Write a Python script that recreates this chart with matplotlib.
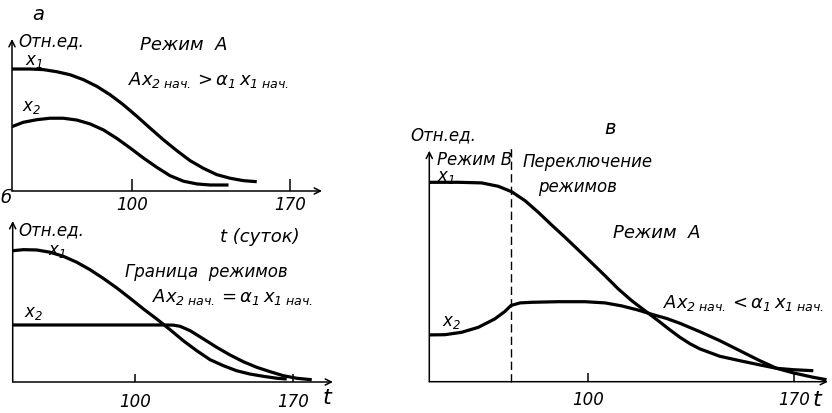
import matplotlib
matplotlib.use('Agg')
import matplotlib.pyplot as plt

plt.rcParams['font.family'] = ['DejaVu Sans']
plt.rcParams['mathtext.fontset'] = 'custom'
plt.rcParams['mathtext.rm'] = 'DejaVu Sans:italic'
plt.rcParams['mathtext.it'] = 'DejaVu Sans:italic'
plt.rcParams['mathtext.sf'] = 'DejaVu Sans:italic'

# ---------------- data (t in days, y in relative units) ----------------
# panel а  (режим A)
a_t1 = [47, 55.0, 60.9, 66.8, 72.7, 78.6, 84.5, 90.4, 96.3, 102.3, 108.1, 114.0,
        120.0, 125.9, 131.8, 137.7, 143.6, 149.5, 155.4]
a_x1 = [0.813, 0.813, 0.809, 0.795, 0.775, 0.742, 0.698, 0.642, 0.575, 0.498, 0.42,
        0.342, 0.269, 0.202, 0.151, 0.109, 0.085, 0.069, 0.062]
a_t2 = [47, 52.0, 57.9, 63.8, 69.7, 75.7, 81.6, 87.5, 93.4, 99.3, 105.2, 111.1,
        117.0, 123.0, 128.9, 134.8, 142.9]
a_x2 = [0.429, 0.458, 0.475, 0.485, 0.485, 0.473, 0.447, 0.407, 0.351, 0.287, 0.22,
        0.158, 0.102, 0.065, 0.047, 0.04, 0.04]

# panel б  (граница режимов)
b_t1 = [45.8, 50.5, 56.4, 62.3, 68.2, 74.2, 80.0, 85.9, 91.9, 97.8, 103.7, 109.6,
        115.5, 121.4, 127.3, 133.2, 139.1, 145.0, 150.9, 156.8, 162.8, 167.2]
b_x1 = [0.875, 0.882, 0.88, 0.865, 0.838, 0.798, 0.749, 0.691, 0.627, 0.558, 0.487,
        0.42, 0.349, 0.275, 0.209, 0.149, 0.109, 0.075, 0.053, 0.038, 0.025, 0.02]
b_t2 = [45.8, 60, 80, 100, 113.0, 117.0, 120.0, 124.4, 130.3, 136.2, 142.1, 148.0,
        153.9, 159.8, 165.7, 171.6, 178.3]
b_x2 = [0.38, 0.38, 0.38, 0.38, 0.38, 0.379, 0.371, 0.342, 0.287, 0.231, 0.18, 0.135,
        0.098, 0.069, 0.042, 0.025, 0.015]

# panel в  (режим B -> режим A)
c_t1 = [46.1, 55.8, 63.7, 69.4, 73.9, 78.5, 83.0, 87.5, 92.1, 96.6, 101.2, 105.7,
        110.2, 114.8, 119.3, 123.8, 127.8, 131.2, 134.6, 138.0, 144.8, 151.6, 158.4,
        164.1, 169.8, 176.6]
c_x1 = [0.997, 0.997, 0.994, 0.977, 0.95, 0.905, 0.847, 0.784, 0.722, 0.659, 0.594,
        0.53, 0.464, 0.405, 0.355, 0.305, 0.259, 0.222, 0.19, 0.164, 0.127, 0.105,
        0.084, 0.067, 0.06, 0.055]
c_t2 = [46.1, 51.2, 56.9, 62.6, 68.2, 71.6, 73.7, 76.8, 80.7, 89.8, 98.9, 105.7,
        111.4, 117.0, 122.1, 126.7, 131.2, 138.0, 144.8, 151.6, 158.4, 164.1, 169.8,
        176.6, 181.1]
c_x2 = [0.234, 0.235, 0.247, 0.272, 0.314, 0.351, 0.381, 0.394, 0.397, 0.4, 0.4,
        0.394, 0.379, 0.358, 0.335, 0.316, 0.292, 0.25, 0.205, 0.155, 0.105, 0.067,
        0.044, 0.022, 0.01]
switch_t = 73.7

tick_values = [100, 170]
tick_labels = ['100', '170']

W, H = 832, 414
fig = plt.figure(figsize=(W / 100, H / 100), dpi=100)


def panel(ox, oy, ex, ty, tlo, thi, ymax, ticklen, pad):
    ax = fig.add_axes([ox / W, (H - oy) / H, (ex - ox) / W, (oy - ty) / H])
    ax.set_xlim(tlo, thi)
    ax.set_ylim(0, ymax)
    ax.patch.set_alpha(0)
    for s in ax.spines.values():
        s.set_visible(False)
    arrow = dict(arrowstyle='->', lw=1.1, color='k', shrinkA=0, shrinkB=0,
                 mutation_scale=11)
    ax.annotate('', xy=(1, 0), xytext=(0, 0), xycoords='axes fraction',
                arrowprops=arrow, annotation_clip=False)
    ax.annotate('', xy=(0, 1), xytext=(0, 0), xycoords='axes fraction',
                arrowprops=arrow, annotation_clip=False)
    ax.set_xticks(tick_values)
    ax.set_xticklabels(tick_labels, fontsize=12, style='italic')
    ax.set_yticks([])
    ax.tick_params(axis='x', direction='in', length=ticklen, width=1.1, pad=pad)
    return ax


lw = 2.3
ax_a = panel(12, 192, 322, 40, 47, 184.3, 1.013, 9, 3)
ax_a.plot(a_t1, a_x1, color='k', lw=lw, solid_capstyle='butt')
ax_a.plot(a_t2, a_x2, color='k', lw=lw, solid_capstyle='butt')

ax_b = panel(12.7, 383, 333, 222, 45.8, 187.7, 1.073, 5.5, 7)
ax_b.plot(b_t1, b_x1, color='k', lw=lw, solid_capstyle='butt')
ax_b.plot(b_t2, b_x2, color='k', lw=lw, solid_capstyle='butt')

ax_c = panel(429.3, 382.7, 828, 151.7, 45.9, 181.6, 1.155, 6.5, 6)
ax_c.plot(c_t1, c_x1, color='k', lw=lw, solid_capstyle='butt')
ax_c.plot(c_t2, c_x2, color='k', lw=lw, solid_capstyle='butt')
ax_c.axvline(switch_t, ymin=0, ymax=1.01, color='k', lw=1.0,
             linestyle=(0, (6, 3)), clip_on=False)


def T(x, y, s, size=12, ha='left'):
    fig.text(x / W, 1 - y / H, s, ha=ha, va='center', fontsize=size,
             style='italic')


# panel а texts
T(38, 15, 'а', 14, 'center')
T(18, 41, 'Отн.ед.', 12)
T(140, 45, 'Режим  А', 13)
T(128, 80, r'$Ax_{2\;нач.}>\alpha_1\,x_{1\;нач.}$', 13)
T(25, 61, r'$x_1$', 12)
T(22, 107, r'$x_2$', 12)

# panel б texts
T(6, 198, 'б', 13, 'center')
T(18, 230, 'Отн.ед.', 12)
T(220, 237, 't (суток)', 13)
T(48, 251, r'$x_1$', 12)
T(24, 313, r'$x_2$', 12)
T(125, 272, 'Граница  режимов', 12)
T(152, 297, r'$Ax_{2\;нач.}=\alpha_1\,x_{1\;нач.}$', 13)
T(327, 398, 't', 16, 'center')

# panel в texts
T(610, 128, 'в', 14, 'center')
T(410, 135, 'Отн.ед.', 12)
T(437, 160, 'Режим В', 12)
T(523, 162, 'Переключение', 12)
T(538, 187, 'режимов', 12)
T(437, 177, r'$x_1$', 12)
T(442, 322, r'$x_2$', 12)
T(613, 233, 'Режим  А', 13)
T(663, 303, r'$Ax_{2\;нач.}<\alpha_1\,x_{1\;нач.}$', 13)
T(817, 400, 't', 16, 'center')

fig.savefig('out.png', dpi=100)
